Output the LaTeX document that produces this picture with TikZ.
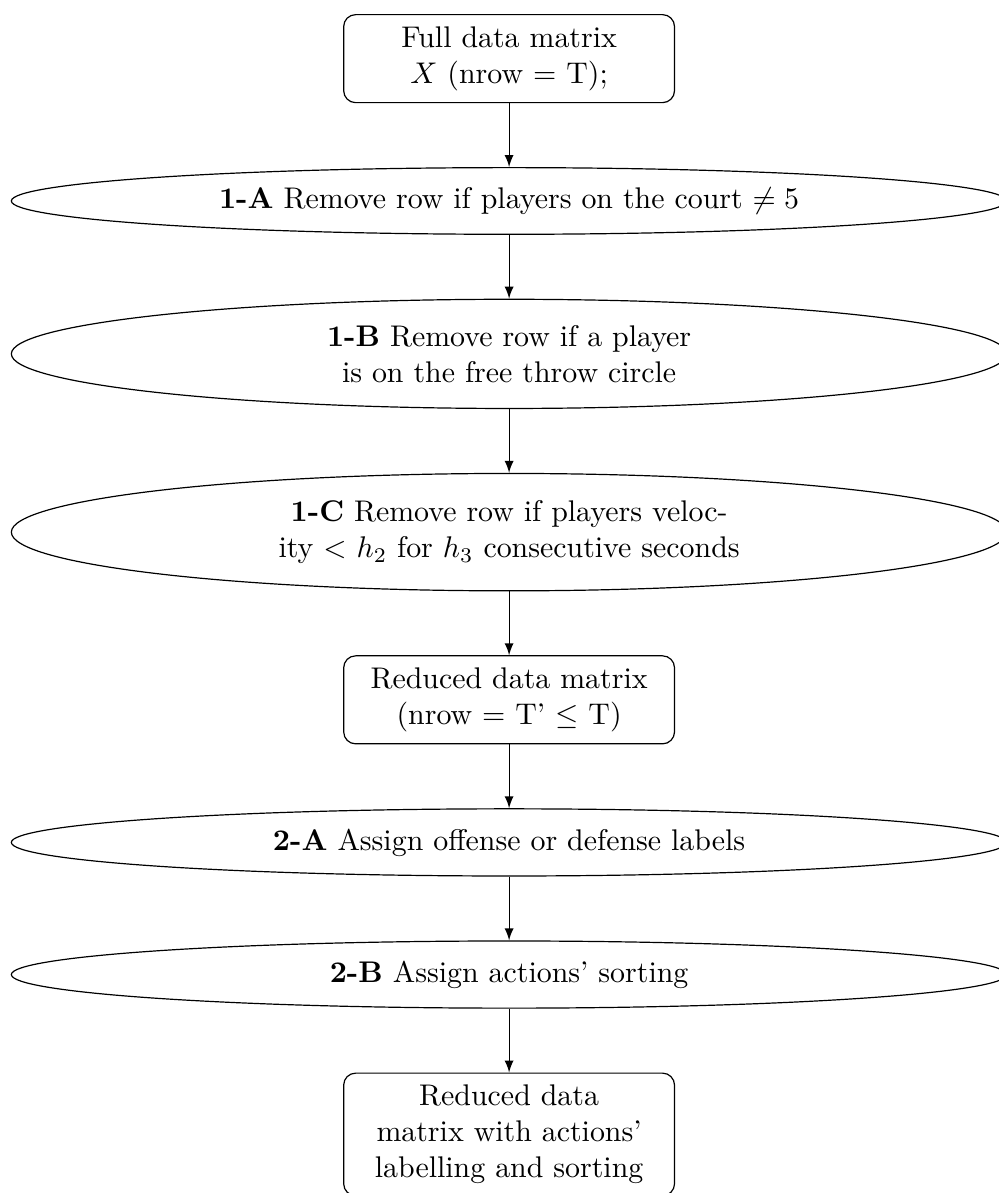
\documentclass[tikz,border=0pt]{standalone}
\usepackage{amsmath}
\usepackage{amssymb}
\usetikzlibrary{positioning}
\usetikzlibrary{shapes.geometric}
\tikzset{>=latex}
\tikzset{databox/.style={draw,rounded corners,align=center,text width=104pt,inner ysep=4pt}}
\tikzset{stepell/.style={draw,ellipse,align=center,minimum width=333pt}}

\begin{document}
\begin{tikzpicture}[node distance=0.75cm]
    \node[databox] (full) at (0,0) {Full data matrix\\ $X$ (nrow $=$ T);};
    \node[stepell, below=of full] (rmA) {\textbf{1-A} Remove row if players on the court $\neq 5$};
    \node[stepell, below=of rmA] (rmB) {\textbf{1-B} Remove row if a player\\ is on the free throw circle};
    \node[stepell, below=of rmB] (rmC) {\textbf{1-C} Remove row if players veloc-\\ ity $<$\ $h_2$ for $h_3$ consecutive seconds};
    \node[databox, below=of rmC] (reduced) {Reduced data matrix\\ (nrow $=$ T' $\leq$ T)};
    \node[stepell, below=of reduced] (asA) {\textbf{2-A} Assign offense or defense labels};
    \node[stepell, below=of asA] (asB) {\textbf{2-B} Assign actions' sorting};
    \node[databox, below=of asB] (final) {Reduced data\\ matrix with actions'\\ labelling and sorting};

    \draw[->] (full) -- (rmA);
    \draw[->] (rmA) -- (rmB);
    \draw[->] (rmB) -- (rmC);
    \draw[->] (rmC) -- (reduced);
    \draw[->] (reduced) -- (asA);
    \draw[->] (asA) -- (asB);
    \draw[->] (asB) -- (final);

    % page cut as in the original
    \pgfresetboundingbox
    \useasboundingbox ([shift={(-170.3pt,4.7pt)}]full.north) rectangle ([shift={(163.7pt,-40.3pt)}]final.north);
\end{tikzpicture}
\end{document}
